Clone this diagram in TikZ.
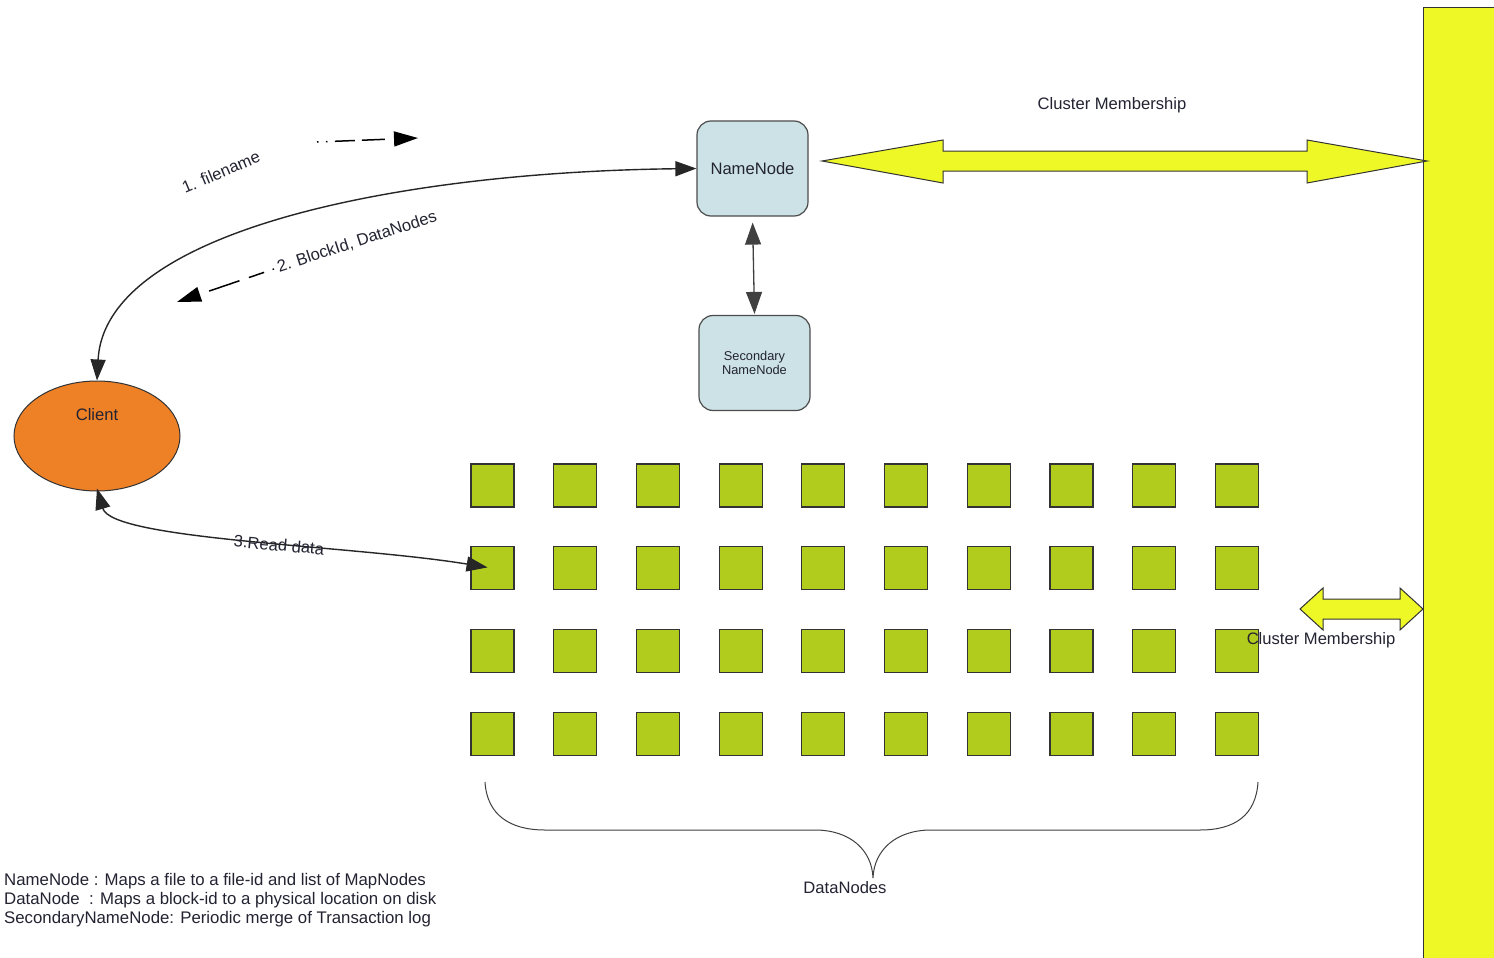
\documentclass[tikz,border=0pt]{standalone}
\usepackage{fontspec}
\setmainfont{Liberation Sans}
\usetikzlibrary{arrows.meta,shapes.geometric}
\definecolor{nodeblue}{RGB}{204,226,230}
\definecolor{clientor}{RGB}{238,128,38}
\definecolor{dngreen}{RGB}{178,204,30}
\definecolor{bary}{RGB}{238,248,38}
\definecolor{txt}{RGB}{35,35,50}
\tikzset{tipb/.tip={Triangle[length=21pt,width=15pt]}}
\begin{document}
\begin{tikzpicture}[x=1pt,y=-1pt, font=\fontsize{16.6}{19}\selectfont,
  lbl/.style={text=txt, inner sep=0pt},
  box/.style={draw=black!70, line width=1.2pt, fill=nodeblue, rounded corners=14pt, minimum width=111pt, minimum height=95pt, inner sep=0pt, text=txt},
  dn/.style={draw=black!80, line width=1.2pt, fill=dngreen, minimum size=43pt, inner sep=0pt},
  conn/.style={draw=black!85, line width=1.4pt},
  yarrow/.style={fill=bary, draw=black!80, line width=1pt, line join=miter}]
\useasboundingbox (0,0) rectangle (1494,958);
\fill[white] (0,0) rectangle (1494,958);

% cluster bar
\fill[bary] (1423,8) rectangle (1494,958);
\draw[black!80, line width=1pt] (1423,958) -- (1423,8) -- (1494,8);

% big double arrow
\draw[yarrow] (822,161) -- (943,140) -- (943,151) -- (1307,151) -- (1307,140) -- (1427,161)
  -- (1307,183) -- (1307,171) -- (943,171) -- (943,183) -- cycle;
\node[lbl] (cm1) at (1112,105) {Cluster Membership};

% small double arrow
\draw[yarrow] (1300,609) -- (1323,588) -- (1323,599) -- (1400,599) -- (1400,588) -- (1423,609)
  -- (1400,630) -- (1400,619) -- (1323,619) -- (1323,630) -- cycle;

% name nodes
\node[box] (nn) at (752.5,168.5) {NameNode};
\node[box, font=\fontsize{12.8}{14.5}\selectfont, align=center] (snn) at (754.5,363) {Secondary\\NameNode};
\draw[black!75, line width=1.3pt, {Triangle[length=22pt,width=16pt]}-{Triangle[length=22pt,width=16pt]}, shorten <=6pt, shorten >=1pt] (nn.south) -- (snn.north);

% client
\node[ellipse, draw=black!80, line width=1pt, fill=clientor, minimum width=166pt, minimum height=110pt, inner sep=0pt] (client) at (97,436) {};
\node[lbl] (clientlbl) at (97,415) {Client};

% data nodes
\foreach \r in {0,...,3}
  \foreach \c in {0,...,9}
    \node[dn] (d\r\c) at ({492.5+82.7*\c},{485.5+82.7*\r}) {};

% curve client <-> namenode
\draw[conn, tipb-tipb] (client.north) .. controls (105,230) and (400,172) .. (nn.west);

% dashed arrows
\coordinate (a1s) at (317,142);
\coordinate (a1e) at (418,138);
\draw[black, line width=1.5pt, dash pattern=on 1.5pt off 7.5pt on 1.5pt off 7.5pt on 20pt off 7pt on 23pt off 40pt, -{Triangle[length=24pt,width=15pt]}] (a1s) -- (a1e);
\node[lbl, rotate=23] (l1) at (221,172) {1. filename};

\coordinate (a2s) at (274,269);
\coordinate (a2e) at (177,302);
\draw[black, line width=1.5pt, dash pattern=on 1.5pt off 9pt on 16pt off 10pt on 32pt off 40pt, -{Triangle[length=24pt,width=15pt]}] (a2s) -- (a2e);
\node[lbl, rotate=18] (l2) at (357,242) {2. BlockId, DataNodes};

% read data
\draw[conn, tipb-tipb, shorten >=5pt] ([yshift=3pt]client.south) .. controls (112,540) and (350,545) .. (d10.center);
\node[lbl, rotate=-5] (l3) at (279,545) {3.Read data};

\node[lbl] (cm2) at (1321,640) {Cluster Membership};

% brace
\draw[black!75, line width=1pt] (485,782) .. controls (487,815) and (510,830) .. (545,830) -- (815,830)
  .. controls (850,830) and (872,850) .. (873,878) .. controls (874,850) and (896,830) .. (931,830)
  -- (1200,830) .. controls (1235,830) and (1256,815) .. (1258,782);
\node[lbl] (dnl) at (845,888) {DataNodes};

% legend
\node[lbl, anchor=north west, align=left, font=\fontsize{16.8}{19}\selectfont] (legend) at (4,873)
  {NameNode : Maps a file to a file-id and list of MapNodes\\
   DataNode\ \ : Maps a block-id to a physical location on disk\\
   SecondaryNameNode: Periodic merge of Transaction log};
\end{tikzpicture}
\end{document}
